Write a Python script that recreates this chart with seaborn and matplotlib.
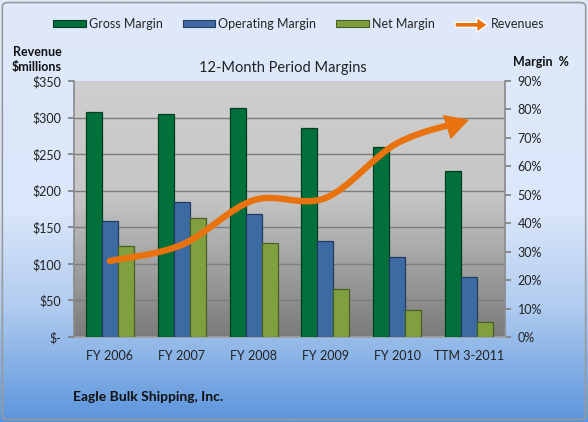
import numpy as np
import pandas as pd
import matplotlib
matplotlib.use("Agg")
import matplotlib.pyplot as plt
import seaborn as sns
from matplotlib.path import Path
from matplotlib.patches import FancyArrowPatch, FancyBboxPatch, Patch, FancyArrow
from matplotlib.colors import LinearSegmentedColormap
from matplotlib.legend_handler import HandlerPatch

# ---------------- data ----------------
categories = ["FY 2006", "FY 2007", "FY 2008", "FY 2009", "FY 2010", "TTM 3-2011"]
gross_margin = [79.2, 78.3, 80.4, 73.6, 66.9, 58.5]
operating_margin = [40.9, 47.6, 43.4, 33.8, 28.1, 21.0]
net_margin = [32.0, 41.7, 33.2, 16.8, 9.6, 5.2]
revenues = [104, 126, 187, 190, 265, 297]
series_names = ["Gross Margin", "Operating Margin", "Net Margin"]
left_ticks = [0, 50, 100, 150, 200, 250, 300, 350]
left_labels = ["$-", "$50", "$100", "$150", "$200", "$250", "$300", "$350"]
right_ticks = [0, 10, 20, 30, 40, 50, 60, 70, 80, 90]

colors = ["#02703a", "#3e6aa3", "#80a040"]
edges = ["#013d20", "#223c60", "#4b5f22"]
orange = "#e8730e"

df = pd.DataFrame({
    "Period": categories * 3,
    "Metric": [n for n in series_names for _ in categories],
    "Margin": gross_margin + operating_margin + net_margin,
})

sns.set_theme(style="white")
plt.rcParams["font.family"] = ["Lato", "DejaVu Sans"]
W, H = 588, 422
fig = plt.figure(figsize=(W / 100, H / 100), dpi=100)

# figure background gradient
bg = fig.add_axes([0, 0, 1, 1], zorder=-10)
bg.axis("off")
bg_cmap = LinearSegmentedColormap.from_list(
    "bg", [(0, "#dfe9fb"), (0.5, "#dbe7fa"), (0.72, "#b2cdf0"), (1, "#5b95dc")])
grad = np.linspace(0, 1, 256).reshape(-1, 1)
bg.imshow(grad, aspect="auto", cmap=bg_cmap, extent=[0, 1, 0, 1], origin="upper")
bg.set_xlim(0, 1); bg.set_ylim(0, 1)
bg.add_patch(FancyBboxPatch((0.004, 0.006), 0.992, 0.988, boxstyle="round,pad=0,rounding_size=0.01",
                            fill=False, edgecolor="#9a9a9a", lw=1.2, transform=bg.transAxes))

L, R, T, B = 74, 505, 81, 337
ax = fig.add_axes([L / W, 1 - B / H, (R - L) / W, (B - T) / H])
ax.set_zorder(1)

# plot-area gradient
pa_cmap = LinearSegmentedColormap.from_list(
    "pa", [(0, "#cfcfcf"), (0.45, "#c6c6c6"), (1, "#7b7b7b")])
ax.imshow(grad, aspect="auto", cmap=pa_cmap, extent=[0, 1, 0, 1], origin="upper",
          transform=ax.transAxes, zorder=0)

sns.barplot(data=df, x="Period", y="Margin", hue="Metric", palette=colors,
            width=0.67, saturation=1, ax=ax, legend=False, zorder=3)
for cont, ec in zip(ax.containers, edges):
    for p in cont:
        p.set_edgecolor(ec)
        p.set_linewidth(0.9)

ax.set_xlim(-0.5, len(categories) - 0.5)
ax.set_ylim(0, 90)

# revenue axis (twin); set tick sides after creating it
ax2 = ax.twinx()
ax.yaxis.tick_right()
ax.yaxis.set_label_position("right")
ax2.yaxis.tick_left()
ax2.yaxis.set_label_position("left")

ax.set_yticks(right_ticks)
ax.set_yticklabels([f"{t}%" for t in right_ticks])
ax.set_yticks([v * 90 / 350 for v in left_ticks], minor=True)
ax.grid(which="minor", axis="y", color="#7d7d7d", lw=1.0, zorder=1)
ax.grid(which="major", axis="y", visible=False)
ax.grid(axis="x", visible=False)
ax.set_axisbelow(True)
ax.tick_params(axis="y", which="major", length=4, color="#808080", labelsize=9,
               labelcolor="#222222", pad=5, direction="out", right=True, left=False,
               labelright=True, labelleft=False)
ax.tick_params(axis="y", which="minor", length=0, left=False, right=False)
ax.tick_params(axis="x", length=0, labelsize=9, labelcolor="#222222", pad=9)
ax.set_xlabel(""); ax.set_ylabel("")
for s in ["top", "left"]:
    ax.spines[s].set_visible(False)
ax.spines["right"].set_color("#8c8c8c")
ax.spines["bottom"].set_color("#a0a0a0")

ax2.set_ylim(0, 350)
ax2.set_yticks(left_ticks)
ax2.set_yticklabels(left_labels)
ax2.tick_params(axis="y", length=4, color="#808080", labelsize=9, labelcolor="#222222",
                pad=5, left=True, right=False, labelleft=True, labelright=False, direction="out")
ax2.grid(False)
for s in ax2.spines.values():
    s.set_visible(False)
ax2.spines["left"].set_visible(True)
ax2.spines["left"].set_color("#8c8c8c")

# smooth revenue line (Bezier smoothing as Excel does)
xs = np.arange(len(revenues), dtype=float)
ys = np.array(revenues, dtype=float)
pts = np.column_stack([xs, ys])
verts = [tuple(pts[0])]
codes = [Path.MOVETO]
n = len(pts)
for i in range(n - 1):
    p0 = pts[i - 1] if i > 0 else pts[i]
    p1 = pts[i]
    p2 = pts[i + 1]
    p3 = pts[i + 2] if i + 2 < n else pts[i + 1]
    c1 = p1 + (p2 - p0) / 6
    c2 = p2 - (p3 - p1) / 6
    verts += [tuple(c1), tuple(c2), tuple(p2)]
    codes += [Path.CURVE4] * 3
arrow = FancyArrowPatch(path=Path(verts, codes), arrowstyle="-|>,head_length=0.7,head_width=0.38",
                        mutation_scale=14, color=orange, lw=4.6, capstyle="round",
                        joinstyle="miter", transform=ax2.transData, zorder=5)
ax2.add_patch(arrow)

# texts
fig.text(283 / W, 1 - 68 / H, "12-Month Period Margins", ha="center",
         va="center", fontsize=10.5, color="#222222")
fig.text(37 / W, 1 - 59 / H, "Revenue\n$millions", ha="center", va="center",
         fontsize=9, fontweight="bold", color="#111111", linespacing=1.3)
fig.text(541 / W, 1 - 62 / H, "Margin  %", ha="center", va="center",
         fontsize=9, fontweight="bold", color="#111111")
fig.text(73 / W, 1 - 397 / H, "Eagle Bulk Shipping, Inc.", ha="left", va="center",
         fontsize=10, fontweight="bold", color="#111111")

# legend
def make_arrow(legend, orig_handle, xdescent, ydescent, width, height, fontsize):
    return FancyArrow(0, height / 2, width, 0, width=height * 0.8, head_width=height * 2.4,
                      head_length=height * 1.7, length_includes_head=True, color=orange, lw=0)

handles = [Patch(facecolor=c, edgecolor=e, lw=0.8) for c, e in zip(colors, edges)]
rev_handle = Patch(facecolor=orange)
handles.append(rev_handle)
fig.legend(handles, series_names + ["Revenues"], loc="center", bbox_to_anchor=(0.508, 1 - 24 / H),
           ncol=4, frameon=False, fontsize=9, handlelength=2.6, handleheight=0.4,
           columnspacing=1.6, handletextpad=0.25,
           handler_map={rev_handle: HandlerPatch(patch_func=make_arrow)})

fig.savefig("out.png", dpi=100)
